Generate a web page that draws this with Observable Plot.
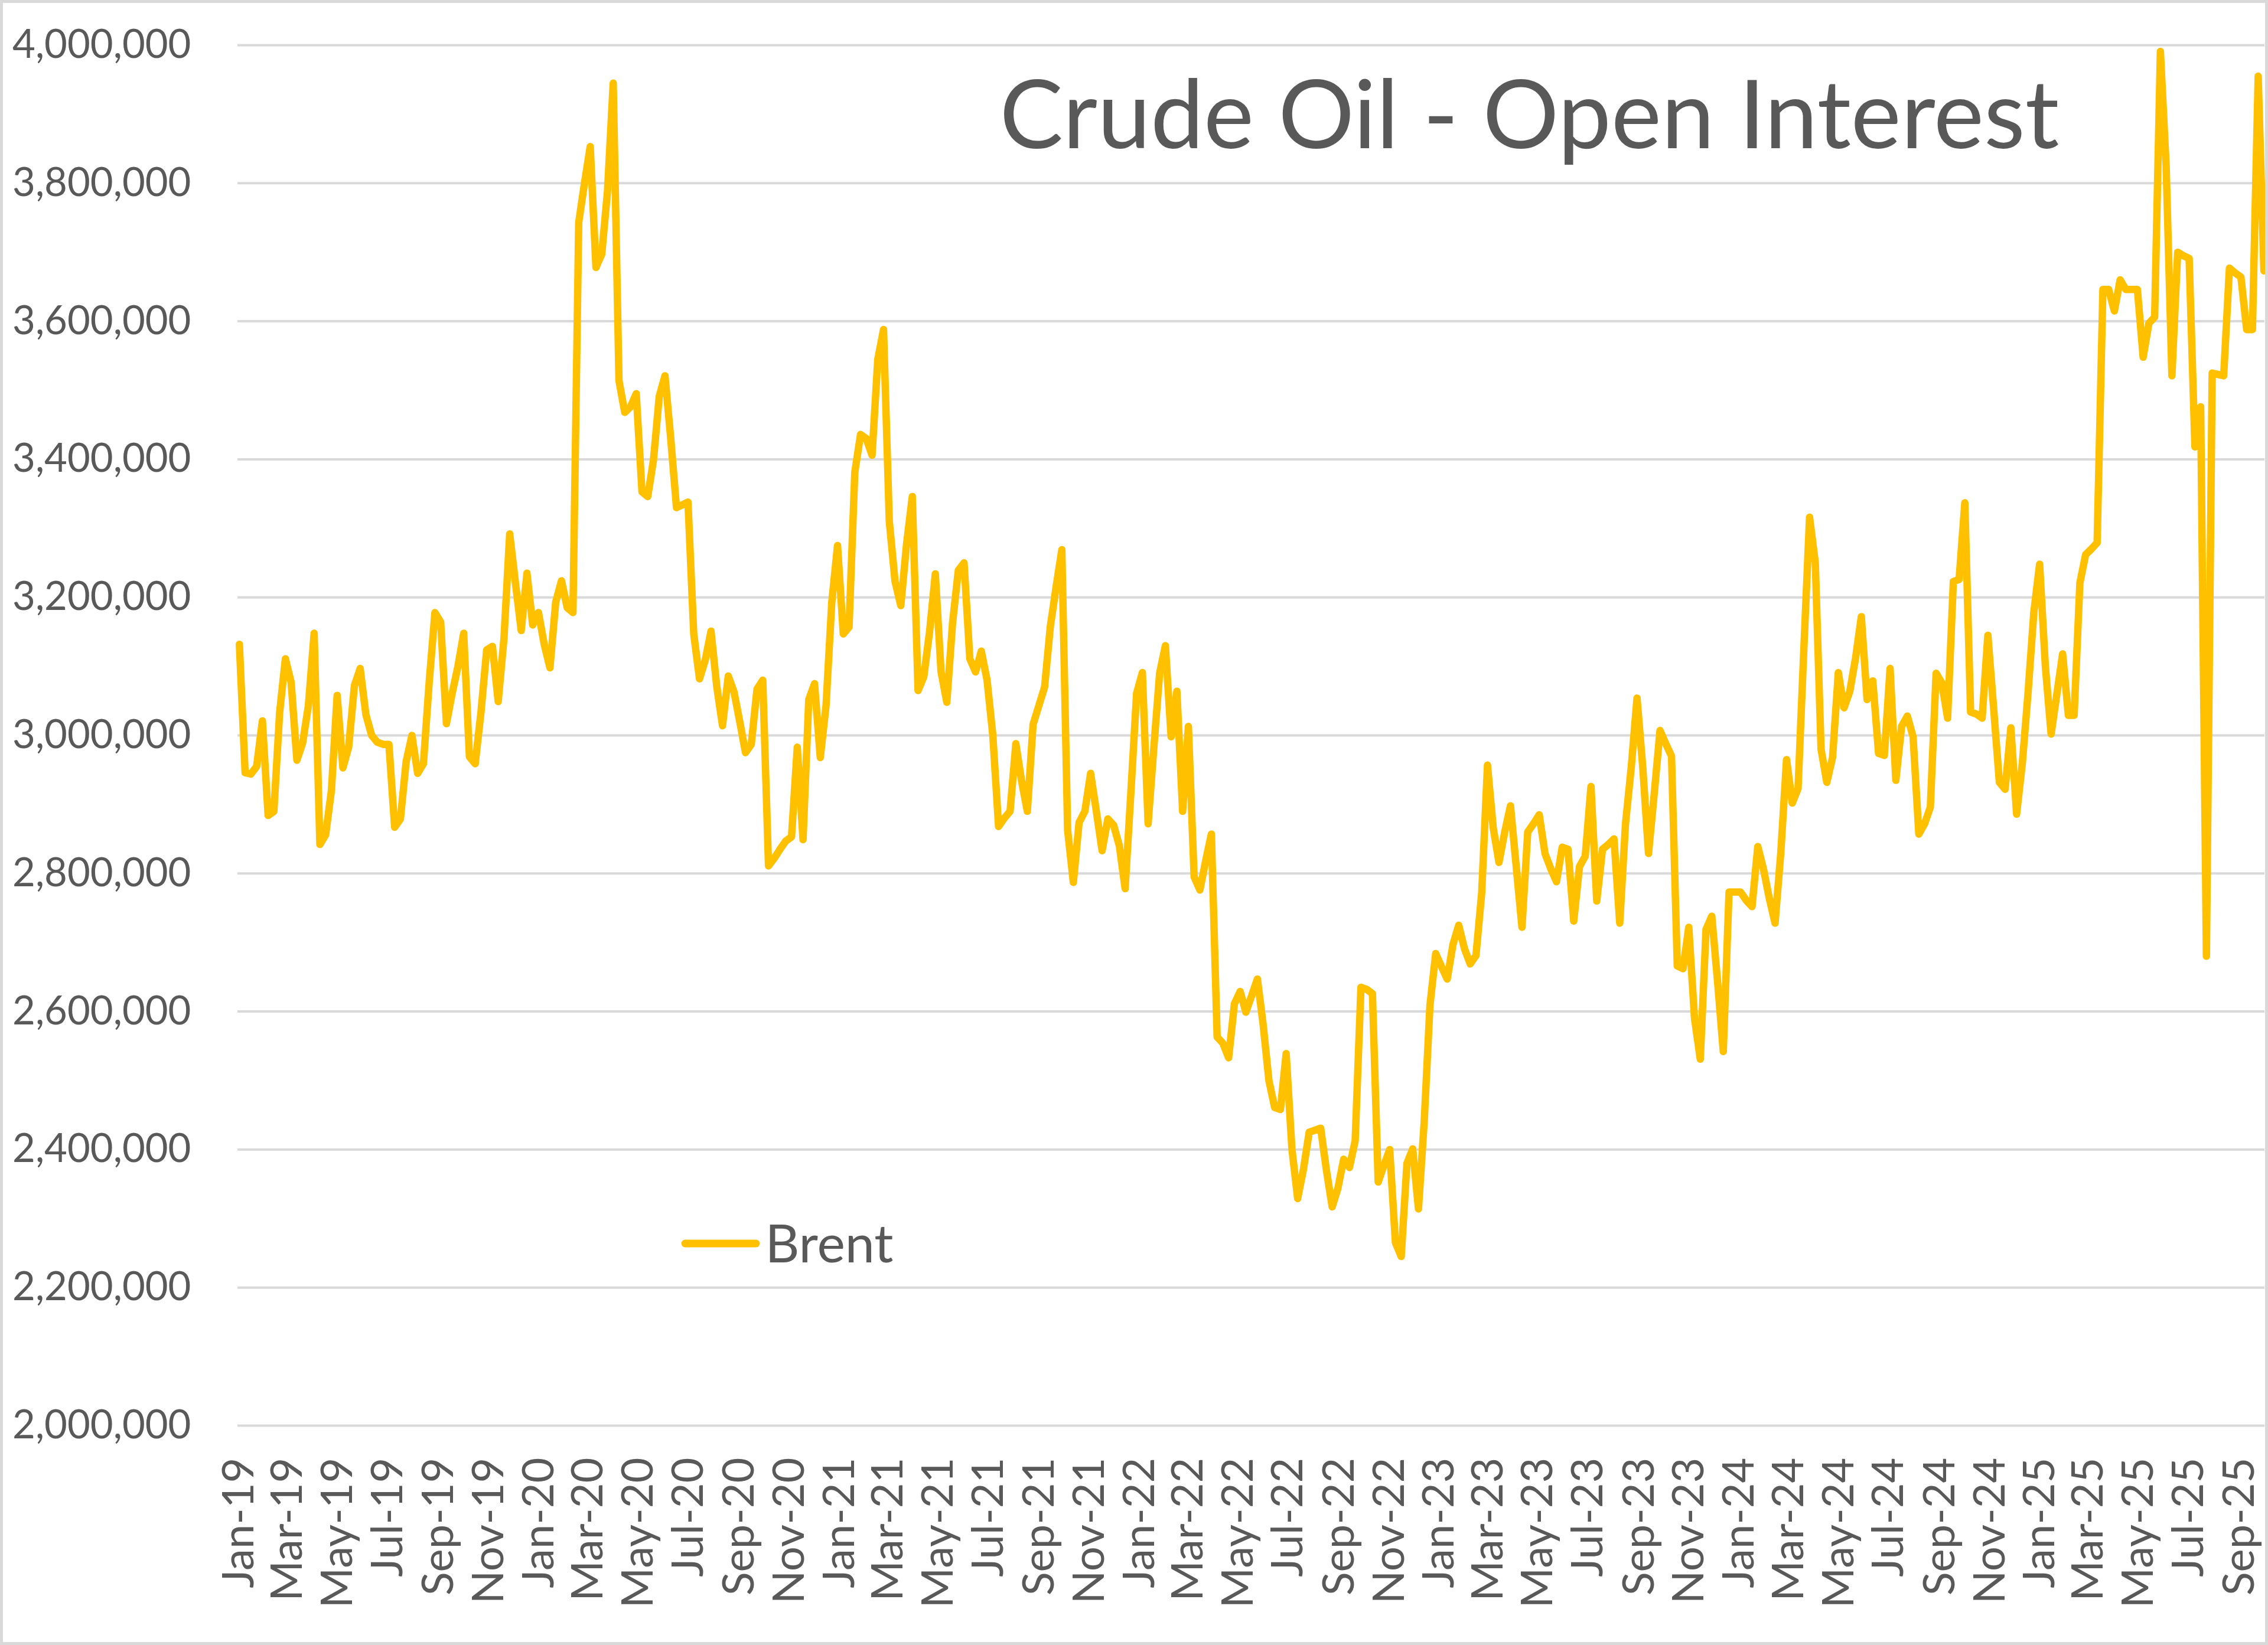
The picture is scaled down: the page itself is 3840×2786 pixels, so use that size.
<!DOCTYPE html>
<html>
<head>
<meta charset="utf-8">
<script src="https://cdn.jsdelivr.net/npm/d3@7"></script>
<script src="https://cdn.jsdelivr.net/npm/@observablehq/plot@0.6"></script>
<style>
  html, body { margin: 0; padding: 0; background: #ffffff; overflow: hidden; }
  #chart svg { display: block; outline: 5px solid #d9d9d9; outline-offset: -5px; }
</style>
</head>
<body>
<div id="chart"></div>
<script>
// ---------------- data ----------------
const chartTitle = "Crude Oil - Open Interest";
const seriesName = "Brent";
// weekly (Tuesday) observations, first one on 1 Jan 2019
const firstObservation = "2019-01-01";
// Brent open interest, thousands of contracts, one value per week
const brentOpenInterestK = [
  3132, 2946, 2944, 2955, 3021, 2884, 2890, 3033, 3111, 3077,
  2964, 2989, 3043, 3148, 2842, 2856, 2920, 3058, 2953, 2983,
  3072, 3097, 3030, 3000, 2990, 2987, 2987, 2867, 2879, 2962,
  3000, 2945, 2959, 3077, 3178, 3164, 3017, 3061, 3100, 3148,
  2969, 2959, 3033, 3124, 3129, 3049, 3140, 3292, 3221, 3152,
  3235, 3160, 3178, 3132, 3098, 3193, 3224, 3185, 3178, 3743,
  3800, 3853, 3678, 3697, 3788, 3945, 3514, 3468, 3476, 3495,
  3353, 3346, 3399, 3491, 3521, 3430, 3330, 3334, 3338, 3147,
  3082, 3109, 3151, 3071, 3014, 3086, 3063, 3020, 2975, 2987,
  3067, 3080, 2811, 2822, 2835, 2847, 2853, 2983, 2849, 3052,
  3075, 2968, 3043, 3193, 3275, 3147, 3157, 3381, 3436, 3430,
  3406, 3545, 3588, 3310, 3223, 3188, 3277, 3346, 3065, 3085,
  3150, 3234, 3092, 3048, 3163, 3239, 3250, 3111, 3092, 3122,
  3080, 3000, 2868, 2880, 2890, 2988, 2934, 2890, 3016, 3043,
  3070, 3158, 3215, 3269, 2863, 2787, 2874, 2890, 2945, 2890,
  2833, 2879, 2870, 2840, 2778, 2917, 3061, 3091, 2872, 2983,
  3090, 3130, 2998, 3064, 2890, 3013, 2795, 2776, 2818, 2857,
  2563, 2554, 2533, 2611, 2629, 2599, 2623, 2647, 2581, 2500,
  2461, 2458, 2539, 2401, 2329, 2371, 2425, 2428, 2431, 2370,
  2317, 2344, 2386, 2374, 2413, 2635, 2632, 2626, 2353, 2377,
  2400, 2265, 2245, 2380, 2401, 2314, 2440, 2609, 2684, 2665,
  2647, 2697, 2725, 2691, 2669, 2681, 2772, 2957, 2866, 2816,
  2860, 2898, 2810, 2722, 2860, 2872, 2885, 2829, 2807, 2788,
  2838, 2835, 2731, 2810, 2825, 2926, 2760, 2835, 2842, 2850,
  2728, 2872, 2954, 3054, 2954, 2829, 2916, 3007, 2988, 2970,
  2666, 2662, 2722, 2590, 2531, 2719, 2738, 2644, 2542, 2773,
  2773, 2773, 2761, 2752, 2839, 2806, 2764, 2728, 2830, 2965,
  2902, 2923, 3124, 3316, 3250, 2980, 2932, 2968, 3091, 3040,
  3064, 3112, 3172, 3052, 3079, 2974, 2971, 3097, 2935, 3013,
  3028, 2998, 2857, 2872, 2896, 3090, 3076, 3025, 3223, 3226,
  3337, 3034, 3031, 3025, 3145, 3040, 2932, 2922, 3011, 2886,
  2960, 3063, 3179, 3248, 3100, 3002, 3060, 3118, 3029, 3029,
  3221, 3262, 3270, 3279, 3646, 3646, 3615, 3660, 3646, 3646,
  3646, 3548, 3597, 3606, 3991, 3825, 3521, 3700, 3695, 3691,
  3418, 3476, 2680, 3525, 3523, 3521, 3677, 3670, 3664, 3588,
  3588, 3955, 3673
];
// y-axis tick values
const yTickValues = [2000000, 2200000, 2400000, 2600000, 2800000, 3000000,
                     3200000, 3400000, 3600000, 3800000, 4000000];
// x-axis: a label every second month, Jan-19 … Sep-25
const xTickFirst = "2019-01-01";
const xTickLast = "2025-09-01";
const xDomainDates = ["2018-12-30", "2025-10-01"];

// ---------------- build ----------------
const start = new Date(firstObservation + "T00:00:00Z");
const data = brentOpenInterestK.map((v, i) => ({
  date: d3.utcDay.offset(start, 7 * i),
  value: v * 1000
}));
const xTicks = d3.utcMonth.every(2).range(
  new Date(xTickFirst + "T00:00:00Z"),
  d3.utcDay.offset(new Date(xTickLast + "T00:00:00Z"), 1)
);
const fmtMonth = d3.utcFormat("%b-%y");
const textColor = "#595959";
const lineColor = "#FFC000";

const chart = Plot.plot({
  width: 3840,
  height: 2786,
  marginLeft: 402,
  marginRight: 6,
  marginTop: 76,
  marginBottom: 372,
  style: {
    fontFamily: "Lato, 'Open Sans', sans-serif",
    fontSize: "66px",
    color: textColor,
    background: "#ffffff"
  },
  x: { type: "utc", domain: xDomainDates.map(d => new Date(d + "T00:00:00Z")) },
  y: { domain: [2000000, 4000000] },
  marks: [
    Plot.gridY(yTickValues, { stroke: "#d9d9d9", strokeOpacity: 1, strokeWidth: 4 }),
    Plot.axisY(yTickValues, {
      tickSize: 0, tickPadding: 79, tickFormat: d3.format(","),
      fontSize: 67, fill: textColor, label: null
    }),
    Plot.axisX(xTicks, {
      tickSize: 0, tickPadding: 54, tickFormat: fmtMonth, tickRotate: -90,
      fontSize: 74, fill: textColor, label: null
    }),
    Plot.lineY(data, {
      x: "date", y: "value", stroke: lineColor, strokeWidth: 12.5,
      strokeLinejoin: "round", strokeLinecap: "round"
    }),
    Plot.text([chartTitle], {
      frameAnchor: "top-left", dx: 1290, dy: 174, lineAnchor: "bottom",
      textAnchor: "start", fontSize: 162, fill: textColor
    }),
    Plot.text([seriesName], {
      frameAnchor: "top-left", dx: 893, dy: 2061, lineAnchor: "bottom",
      textAnchor: "start", fontSize: 90, fill: textColor
    })
  ]
});

// legend swatch
d3.select(chart).append("line")
  .attr("x1", 1160).attr("x2", 1280).attr("y1", 2106).attr("y2", 2106)
  .attr("stroke", lineColor).attr("stroke-width", 13).attr("stroke-linecap", "round");

// fit title / legend text widths to the reference
d3.select(chart).selectAll("text").each(function () {
  const t = this.textContent;
  if (t === chartTitle) d3.select(this).attr("textLength", 1794).attr("lengthAdjust", "spacingAndGlyphs");
  if (t === seriesName) d3.select(this).attr("textLength", 217).attr("lengthAdjust", "spacingAndGlyphs");
});

document.getElementById("chart").appendChild(chart);
</script>
</body>
</html>
